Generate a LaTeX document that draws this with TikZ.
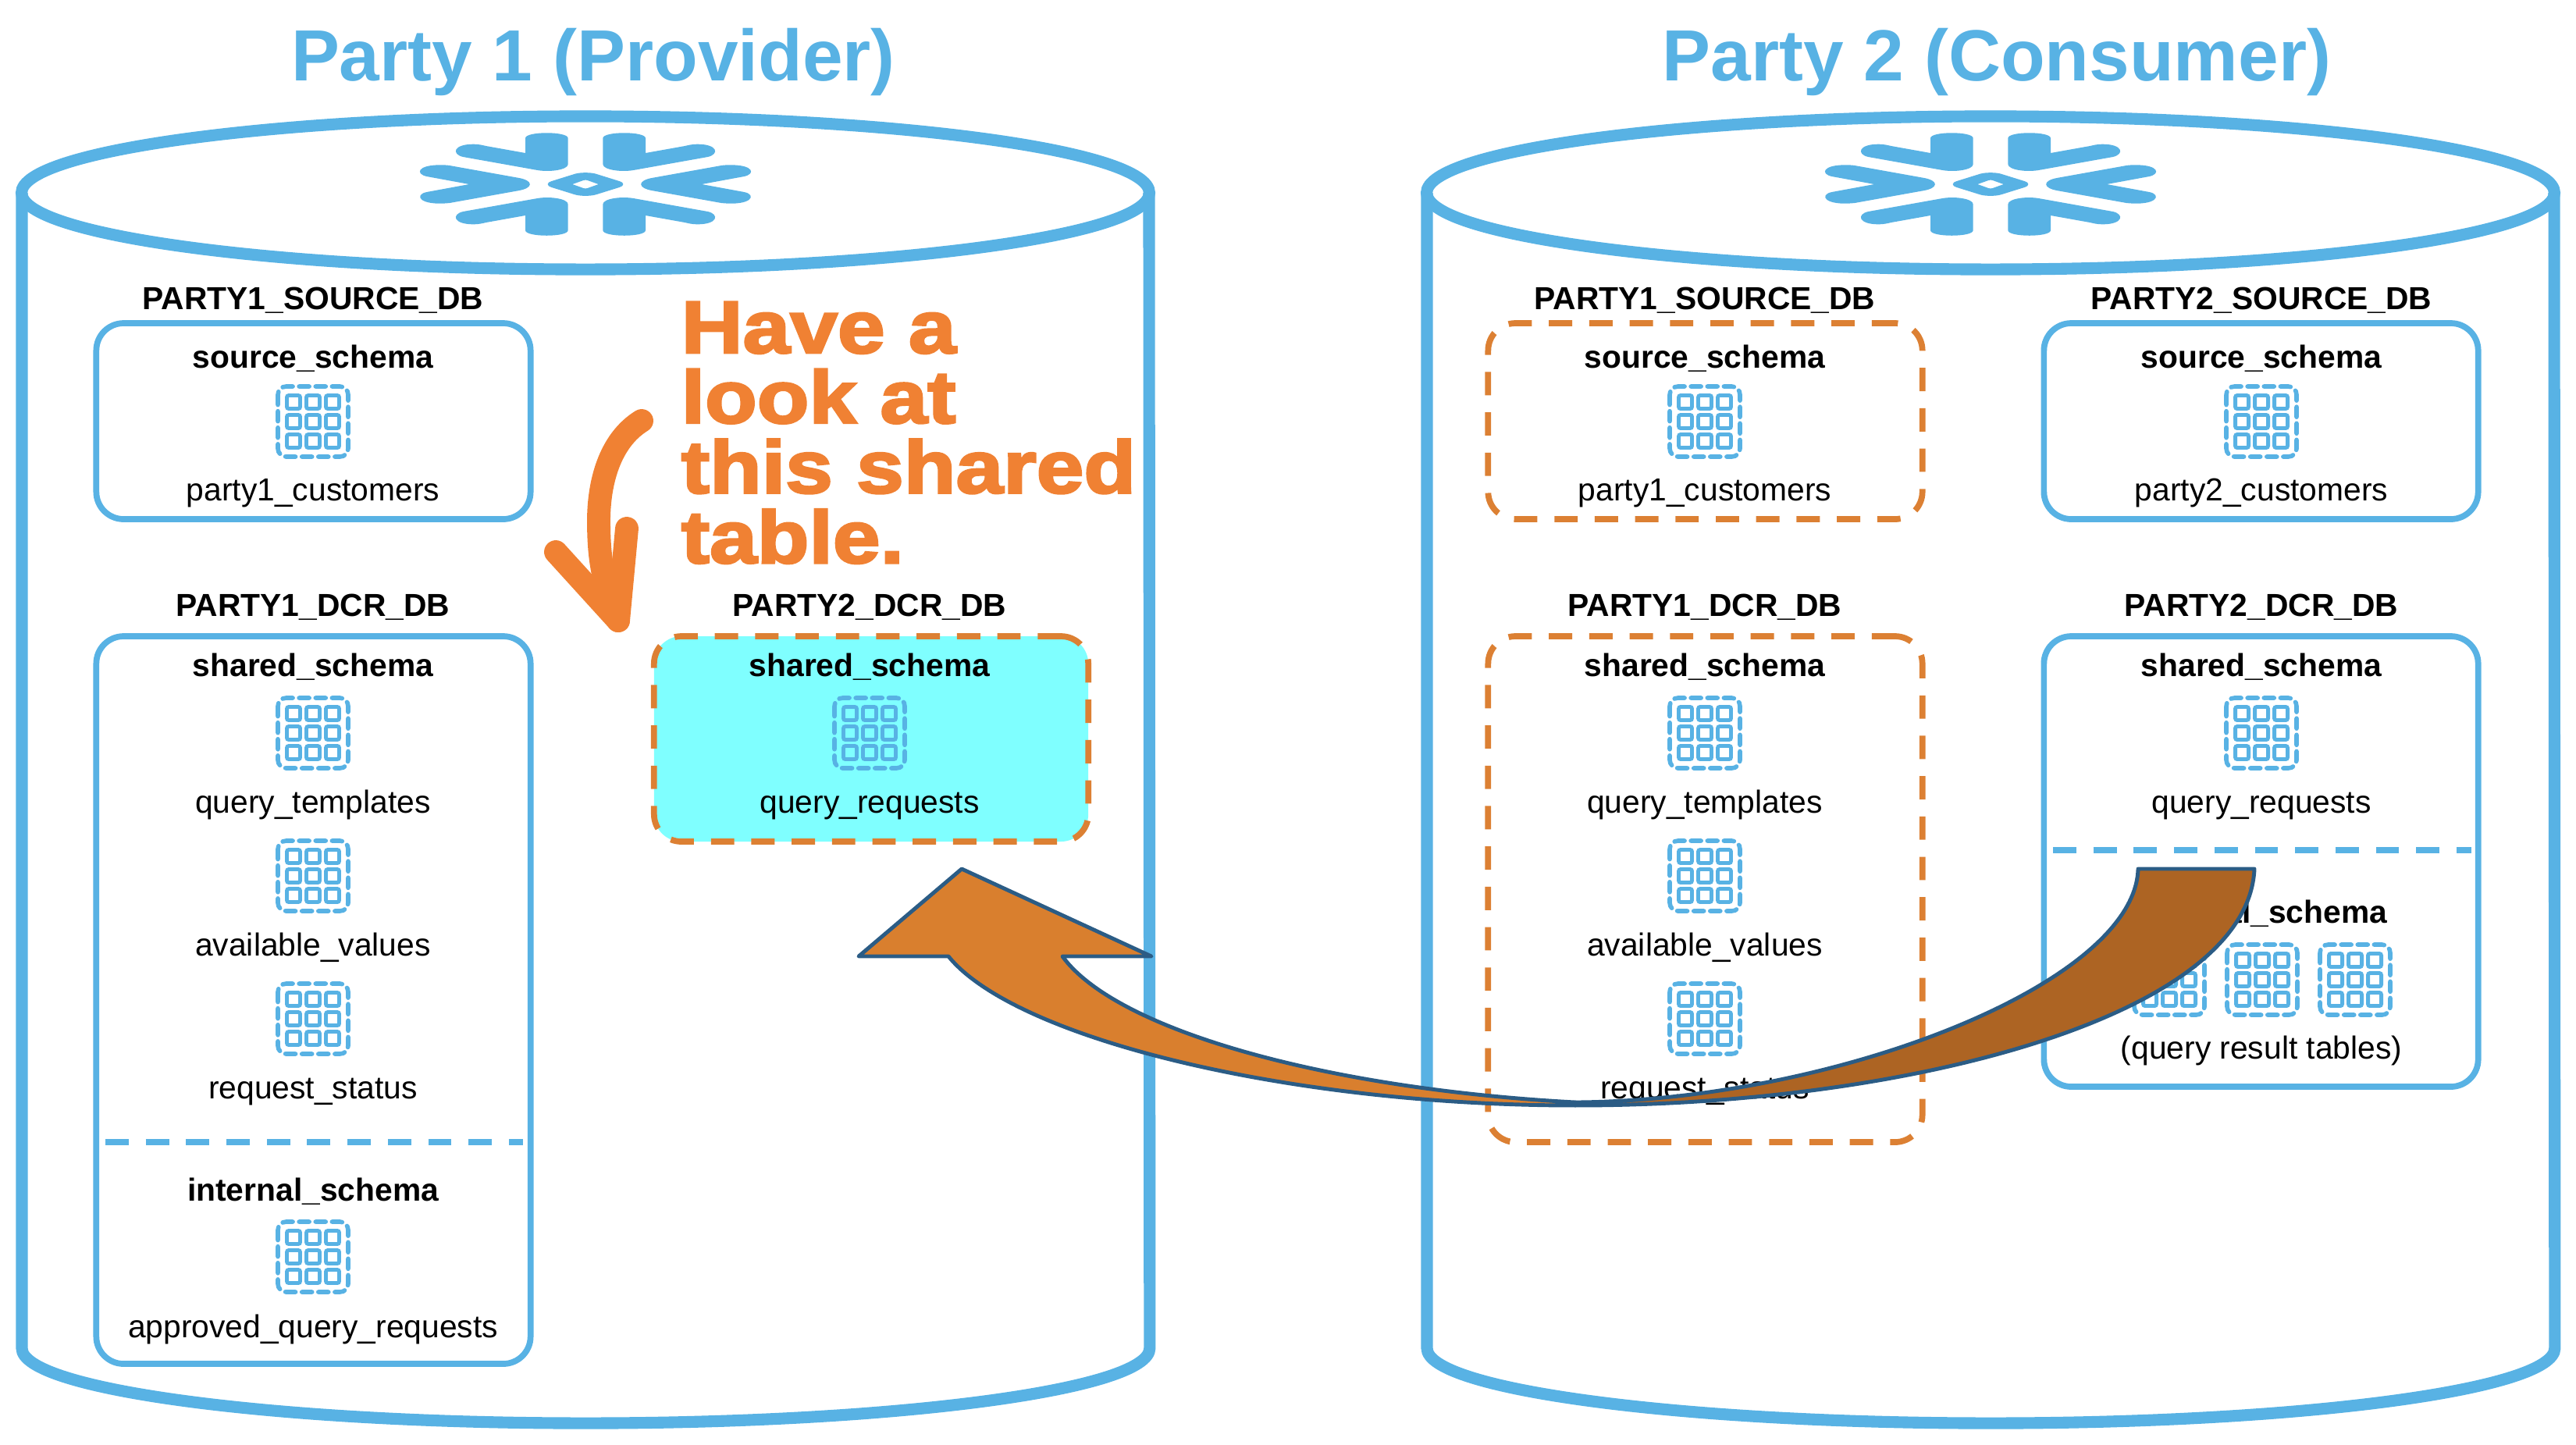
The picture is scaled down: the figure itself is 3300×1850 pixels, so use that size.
\documentclass[tikz,border=0pt]{standalone}
\usepackage{fontspec}
\setmainfont{Liberation Sans}
\newfontfamily\shoutfont[FakeBold=3,FakeStretch=1.15]{Liberation Sans Bold}

\definecolor{partyBlue}{HTML}{58B2E4}
\definecolor{noteOrange}{HTML}{F08133}
\definecolor{shareOrange}{HTML}{DC8033}
\definecolor{arrowLight}{HTML}{D97F2E}
\definecolor{arrowDark}{HTML}{AD6423}
\definecolor{arrowEdge}{HTML}{2B5C85}
\definecolor{sharedCyan}{HTML}{7FFFFF}

\tikzset{
  tableIcon/.pic={
    \draw[partyBlue,line width=1.6pt,rounded corners=3pt,line cap=round,dash pattern=on 3.7pt off 2.3pt]
      (-45,-45) rectangle (45,45);
    \foreach \i in {-25,0,25}
      \foreach \j in {-25,0,25}
        \draw[partyBlue,line width=1.4pt,rounded corners=0.7pt] ({\i-8.5},{\j-8.5}) rectangle ({\i+8.5},{\j+8.5});
  },
  snowLogo/.pic={
    \begin{scope}[scale=1/3]
    \foreach \sx/\sy in {1/1,-1/1,1/-1,-1/-1}
    {
      \fill[partyBlue,xscale=\sx,yscale=\sy]
        (-231,-177) .. controls (-231,-204) and (-67,-204) .. (-67,-177)
        -- (-67,-77) .. controls (-67,-55) and (-140,-45) .. (-190,-55)
        -- (-470,-105) .. controls (-515,-115) and (-510,-154) .. (-430,-154)
        .. controls (-410,-154) and (-395,-150) .. (-382,-147)
        -- (-231,-120) -- cycle;
    }
    \foreach \sx in {1,-1}
    {
      \fill[partyBlue,xscale=\sx]
        (-447,0) -- (-610,-30) .. controls (-655,-40) and (-645,-74) .. (-560,-74)
        .. controls (-545,-74) and (-535,-74) .. (-522,-72)
        -- (-260,-25) .. controls (-198,-15) and (-198,15) .. (-260,25)
        -- (-522,72) .. controls (-640,84) and (-660,40) .. (-610,30) -- cycle;
    }
    \fill[partyBlue,even odd rule]
      (-145,0) .. controls (-145,-6) and (-140,-8) .. (-130,-12)
      -- (-40,-40) .. controls (-20,-46) and (20,-46) .. (40,-40)
      -- (130,-12) .. controls (140,-8) and (145,-6) .. (145,0)
      .. controls (145,6) and (140,8) .. (130,12)
      -- (40,40) .. controls (20,46) and (-20,46) .. (-40,40)
      -- (-130,12) .. controls (-140,8) and (-145,6) .. (-145,0) -- cycle
      (-50,0) -- (-8,-15) .. controls (-3,-17) and (3,-17) .. (8,-15)
      -- (50,0) -- (8,15) .. controls (3,17) and (-3,17) .. (-8,15) -- cycle;
    \end{scope}
  }
}

\begin{document}
\begin{tikzpicture}
[x=0.01cm,y=-0.01cm,
  titleDecorate/.style={anchor=base,text=partyBlue,font=\fontsize{26.4}{30}\selectfont\bfseries},%
  labelDecorate/.style={anchor=base,inner sep=0pt,yshift=-0.4pt,font=\fontsize{11.6}{14}\selectfont},%
  headDecorate/.style={labelDecorate,font=\fontsize{11.6}{14}\selectfont\bfseries},%
  boxDecorate/.style={shape=rectangle,minimum width=5.56cm,rounded corners=0.35cm,line width=2.2pt},%
  solidBox/.style={boxDecorate,draw=partyBlue},%
  sharedBox/.style={boxDecorate,draw=shareOrange,dash pattern=on 8.5pt off 6.2pt},%
  cyanBox/.style={sharedBox,fill=sharedCyan},%
  tankDecorate/.style={draw=partyBlue,line width=4.3pt},%
  dividerDecorate/.style={draw=partyBlue,line width=2.2pt,dash pattern=on 8.5pt off 6.2pt},%
  noteDecorate/.style={draw=noteOrange,line width=8.5pt,line cap=round,line join=round},%
  blockDecorate/.style={draw=arrowEdge,line width=1.4pt,line join=round}]
\useasboundingbox (0,0) rectangle (3300,1850);
%% titles
\node (party1) at (760,103) [titleDecorate] {Party 1 (Provider)};
\node (party2) at (2558,103) [titleDecorate] {Party 2 (Consumer)};
%% cylinders and logos
\foreach \cx in {750,2550}
{
  \draw[tankDecorate] (\cx,247) ellipse [x radius=7.22cm,y radius=0.98cm];
  \draw[tankDecorate] ({\cx-722},247) -- ({\cx-722},1727)
    arc [start angle=180,end angle=360,x radius=7.22cm,y radius=0.96cm] -- ({\cx+722},247);
  \pic at (\cx,236) {snowLogo};
}
%% schema boxes
\foreach \nodename/\x/\y/\h/\look in {leftSource/401.5/539.5/251/solidBox, leftDcr/401.5/1281/932/solidBox,
  leftShared/1116/946.5/263/cyanBox, rightSource/2184.5/539.5/251/sharedBox, rightDcr/2184.5/1139/648/sharedBox,
  otherSource/2896.5/539.5/251/solidBox, otherDcr/2896.5/1103.5/577/solidBox}
{
  \node (\nodename) at (\x,\y) [\look,minimum height=\h*0.01cm] {};
}
%% dashed dividers
\coordinate (leftCutA) at (135,1463);
\coordinate (leftCutB) at (670,1463);
\coordinate (otherCutA) at (2630,1089);
\coordinate (otherCutB) at (3166,1089);
\draw[dividerDecorate] (leftCutA) -- (leftCutB);
\draw[dividerDecorate] (otherCutA) -- (otherCutB);
%% bold headings
\foreach \nodename/\x/\y/\txt in {dbA/401/395/PARTY1\_SOURCE\_DB, dbB/401/788/PARTY1\_DCR\_DB, dbC/1114/788/PARTY2\_DCR\_DB,
  dbD/2184/395/PARTY1\_SOURCE\_DB, dbE/2184/788/PARTY1\_DCR\_DB, dbF/2897/395/PARTY2\_SOURCE\_DB, dbG/2897/788/PARTY2\_DCR\_DB,
  schemaA/401/470/source\_schema, schemaB/401/865/shared\_schema, schemaC/401/1537/internal\_schema, schemaD/1114/865/shared\_schema,
  schemaE/2184/470/source\_schema, schemaF/2184/865/shared\_schema, schemaG/2897/470/source\_schema, schemaH/2897/865/shared\_schema,
  schemaI/2897/1181/internal\_schema}
{
  \node (\nodename) at (\x,\y) [headDecorate] {\txt};
}
%% table names
\foreach \nodename/\x/\y/\txt in {tableA/401/640/party1\_customers, tableB/401/1040/query\_templates, tableC/401/1223/available\_values,
  tableD/401/1406/request\_status, tableE/401/1712/approved\_query\_requests, tableF/1114/1040/query\_requests,
  tableG/2184/640/party1\_customers, tableH/2184/1040/query\_templates, tableI/2184/1223/available\_values, tableJ/2184/1406/request\_status,
  tableK/2897/640/party2\_customers, tableL/2897/1040/query\_requests, tableM/2897/1355/(query result tables)}
{
  \node (\nodename) at (\x,\y) [labelDecorate] {\txt};
}
%% table icons
\foreach \x/\y in {401/540, 401/939, 401/1122, 401/1305, 401/1610, 1114/939, 2184/540, 2184/939, 2184/1122, 2184/1305,
  2897/540, 2897/939, 2779/1255, 2898/1255, 3017/1255}
{
  \pic at (\x,\y) {tableIcon};
}
%% note and its arrow
\node (note) at (872,386) [anchor=north west,inner sep=0pt,align=left,text=noteOrange,
  font=\fontsize{27}{25.5}\selectfont\shoutfont] {Have a\\look at\\this shared\\table.};
\coordinate (noteStart) at (822,539);
\coordinate (noteTip) at (792,795);
\coordinate (noteBarbA) at (712,707);
\coordinate (noteBarbB) at (803,677);
\draw[noteDecorate] (noteStart) .. controls (780,565) and (767,620) .. (767,667)
  .. controls (767,715) and (772,745) .. (noteTip);
\draw[noteDecorate] (noteBarbA) -- (noteTip) -- (noteBarbB);
%% block arrow
\coordinate (blockTip) at (1232,1113);
\coordinate (blockCusp) at (2018,1412);
\filldraw[blockDecorate,fill=arrowLight] (blockTip) -- (1475,1225) -- (1361,1225)
  .. controls (1430,1320) and (1700,1395) .. (blockCusp) -- (2018,1416)
  .. controls (1650,1416) and (1300,1330) .. (1215,1225) -- (1100,1225) -- cycle;
\filldraw[blockDecorate,fill=arrowDark] (2739,1113) -- (2888,1113)
  .. controls (2880,1300) and (2450,1416) .. (2018,1416) -- (blockCusp)
  .. controls (2350,1410) and (2735,1260) .. (2739,1113) -- cycle;
\end{tikzpicture}
\end{document}
